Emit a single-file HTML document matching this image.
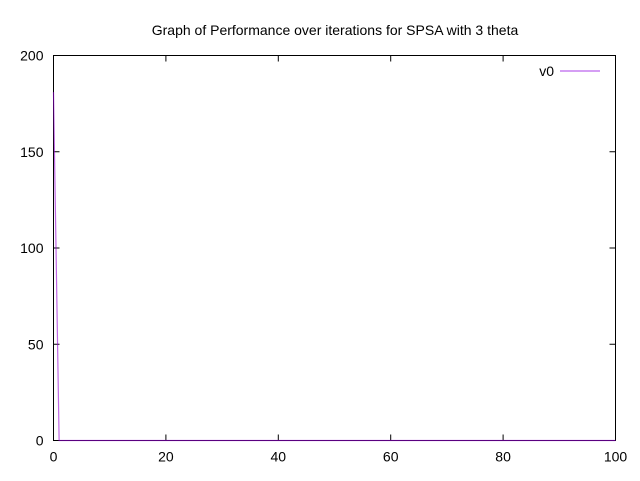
<!DOCTYPE html>
<html><head><meta charset="utf-8"><style>
body{margin:0;background:#fff;}
svg text{font-family:"Liberation Sans",sans-serif;font-size:14px;fill:#000;}
</style></head><body>
<svg width="640" height="476">
<text x="335" y="35" text-anchor="middle">Graph of Performance over iterations for SPSA with 3 theta</text>
<rect x="53.5" y="55.5" width="562" height="385" fill="none" stroke="#000"/>
<g id="axes"></g>
<g id="series"></g>
<g>
<text x="554" y="76" text-anchor="end">v0</text>
<line x1="560" y1="71" x2="600" y2="71" stroke="#c77ff0" stroke-width="1.5"/>
</g>
</svg>
<script>
const xTicks=[0,20,40,60,80,100];
const yTicks=[0,50,100,150,200];
const iterations=[];for(let i=0;i<=100;i++)iterations.push(i);
const v0=[181].concat(new Array(100).fill(0));
const L=53.5,R=615.5,T=55.5,B=440.5;
const xs=v=>L+(v-0)/100*(R-L);
const ys=v=>B-(v-0)/200*(B-T);
const NS="http://www.w3.org/2000/svg";
const ax=document.getElementById('axes');
xTicks.forEach(t=>{
 const x=xs(t);
 for(const [y1,y2] of [[B,B-6],[T,T+6]]){
  const l=document.createElementNS(NS,'line');
  l.setAttribute('x1',x);l.setAttribute('x2',x);l.setAttribute('y1',y1);l.setAttribute('y2',y2);l.setAttribute('stroke','#000');
  
  
  ax.appendChild(l);}
 const tx=document.createElementNS(NS,'text');
 tx.setAttribute('x',x);tx.setAttribute('y',B+21);tx.setAttribute('text-anchor','middle');tx.textContent=t;
 
 
 ax.appendChild(tx);
});
yTicks.forEach(t=>{
 const y=ys(t);
 for(const [x1,x2] of [[L,L+6],[R,R-6]]){
  const l=document.createElementNS(NS,'line');
  l.setAttribute('x1',x1);l.setAttribute('x2',x2);l.setAttribute('y1',y);l.setAttribute('y2',y);l.setAttribute('stroke','#000');
  
  
  ax.appendChild(l);}
 const tx=document.createElementNS(NS,'text');
 tx.setAttribute('x',L-10);tx.setAttribute('y',y+5);tx.setAttribute('text-anchor','end');tx.textContent=t;
 
 
 ax.appendChild(tx);
});
const p=document.createElementNS(NS,'polyline');
p.setAttribute('points',iterations.map((x,i)=>xs(x)+','+ys(v0[i])).join(' '));
p.setAttribute('fill','none');p.setAttribute('stroke','#9400d3');p.setAttribute('stroke-width','1.2');p.setAttribute('stroke-opacity','0.6');


document.getElementById('series').appendChild(p);
</script>
</body></html>
